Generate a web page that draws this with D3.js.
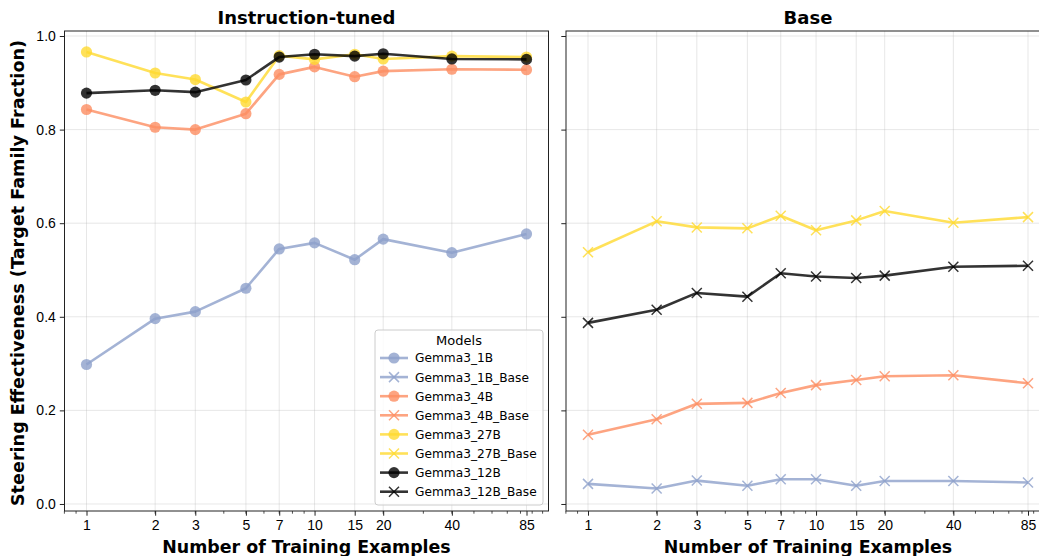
<!DOCTYPE html>
<html>
<head>
<meta charset="utf-8">
<script src="https://cdn.jsdelivr.net/npm/d3@7"></script>
<style>
  body { margin: 0; background: #fff; }
  svg { display: block; font-family: "DejaVu Sans", sans-serif; }
  .tick text { font-size: 14px; fill: #000; }
</style>
</head>
<body>
<svg id="chart" width="1039" height="556"></svg>
<script>
const shots = [1, 2, 3, 5, 7, 10, 15, 20, 40, 85];
const yTicks = [0, 0.2, 0.4, 0.6, 0.8, 1.0];
const minorTicks = [0.8, 0.9, 2, 3, 4, 5, 6, 7, 8, 9, 20, 30, 40, 50, 60, 70, 80, 90, 100];

// instruction-tuned
const gemma1B  = [0.298, 0.396, 0.411, 0.461, 0.545, 0.558, 0.522, 0.566, 0.537, 0.577];
const gemma4B  = [0.843, 0.805, 0.800, 0.834, 0.918, 0.934, 0.913, 0.925, 0.929, 0.928];
const gemma27B = [0.966, 0.921, 0.907, 0.859, 0.958, 0.950, 0.961, 0.951, 0.957, 0.955];
const gemma12B = [0.878, 0.884, 0.880, 0.906, 0.955, 0.961, 0.957, 0.962, 0.951, 0.950];
// base
const gemma1BBase  = [0.043, 0.033, 0.050, 0.039, 0.053, 0.053, 0.039, 0.049, 0.049, 0.046];
const gemma4BBase  = [0.148, 0.181, 0.214, 0.216, 0.237, 0.254, 0.265, 0.273, 0.275, 0.258];
const gemma27BBase = [0.538, 0.604, 0.591, 0.589, 0.616, 0.585, 0.606, 0.626, 0.601, 0.613];
const gemma12BBase = [0.387, 0.415, 0.451, 0.443, 0.493, 0.486, 0.483, 0.488, 0.507, 0.509];

const models = [
  { name: "Gemma3_1B", values: gemma1B, color: "#8da0cb", marker: "o", panel: 0 },
  { name: "Gemma3_1B_Base", values: gemma1BBase, color: "#8da0cb", marker: "x", panel: 1 },
  { name: "Gemma3_4B", values: gemma4B, color: "#fc8d62", marker: "o", panel: 0 },
  { name: "Gemma3_4B_Base", values: gemma4BBase, color: "#fc8d62", marker: "x", panel: 1 },
  { name: "Gemma3_27B", values: gemma27B, color: "#ffd92f", marker: "o", panel: 0 },
  { name: "Gemma3_27B_Base", values: gemma27BBase, color: "#ffd92f", marker: "x", panel: 1 },
  { name: "Gemma3_12B", values: gemma12B, color: "#000000", marker: "o", panel: 0 },
  { name: "Gemma3_12B_Base", values: gemma12BBase, color: "#000000", marker: "x", panel: 1 }
];
const panelTitles = ["Instruction-tuned", "Base"];

const svg = d3.select("#chart");
const plotTop = 31, plotBottom = 511, panelW = 484;
const panelLeft = [64.5, 566];
const titleX = [306.5, 808];
const ALPHA = 0.8;

const lmin = Math.log10(shots[0]), lmax = Math.log10(shots[shots.length - 1]);
const pad = (lmax - lmin) * 0.05;
const y = d3.scaleLinear().domain([-0.015, 1.0107]).range([plotBottom, plotTop]);

function drawMarker(g, type, cx, cy, color, size) {
  if (type === "o") {
    g.append("circle").attr("cx", cx).attr("cy", cy).attr("r", size)
      .attr("fill", color).attr("fill-opacity", ALPHA);
  } else {
    const s = size;
    g.append("path")
      .attr("d", `M${cx - s},${cy - s}L${cx + s},${cy + s}M${cx - s},${cy + s}L${cx + s},${cy - s}`)
      .attr("stroke", color).attr("stroke-opacity", ALPHA).attr("stroke-width", 1.5).attr("fill", "none");
  }
}

panelLeft.forEach((left, p) => {
  const x = d3.scaleLog()
    .domain([Math.pow(10, lmin - pad), Math.pow(10, lmax + pad)])
    .range([left, left + panelW]);
  const g = svg.append("g");

  // grid
  g.selectAll(".gx").data(shots).join("line")
    .attr("x1", d => x(d)).attr("x2", d => x(d)).attr("y1", plotTop).attr("y2", plotBottom)
    .attr("stroke", "#b0b0b0").attr("stroke-opacity", 0.3).attr("stroke-width", 1);
  g.selectAll(".gy").data(yTicks).join("line")
    .attr("x1", left).attr("x2", left + panelW).attr("y1", d => y(d)).attr("y2", d => y(d))
    .attr("stroke", "#b0b0b0").attr("stroke-opacity", 0.3).attr("stroke-width", 1);

  // series
  models.filter(m => m.panel === p).forEach(m => {
    const line = d3.line().x((d, i) => x(shots[i])).y(d => y(d));
    g.append("path").datum(m.values).attr("d", line)
      .attr("fill", "none").attr("stroke", m.color).attr("stroke-opacity", ALPHA)
      .attr("stroke-width", 2.6).attr("stroke-linejoin", "round");
    m.values.forEach((v, i) => drawMarker(g, m.marker, x(shots[i]), y(v), m.color, m.marker === "o" ? 5.6 : 5));
  });

  // frame
  g.append("rect").attr("x", left).attr("y", plotTop).attr("width", panelW).attr("height", plotBottom - plotTop)
    .attr("fill", "none").attr("stroke", "#222").attr("stroke-width", 1);

  // x axis
  const xAxis = g.append("g").attr("transform", `translate(0,${plotBottom})`)
    .call(d3.axisBottom(x).tickValues(shots).tickFormat(d3.format("d")).tickSize(4.7).tickPadding(4));
  xAxis.select(".domain").remove();
  xAxis.selectAll(".tick line").attr("stroke", "#222");
  g.selectAll(".minor").data(minorTicks).join("line")
    .attr("x1", d => x(d)).attr("x2", d => x(d)).attr("y1", plotBottom).attr("y2", plotBottom + 2.7)
    .attr("stroke", "#222").attr("stroke-width", 0.8);

  // y axis
  const yAxis = g.append("g").attr("transform", `translate(${left},0)`)
    .call(d3.axisLeft(y).tickValues(yTicks).tickFormat(p === 0 ? d3.format(".1f") : () => "")
      .tickSize(4.7).tickPadding(4));
  yAxis.select(".domain").remove();
  yAxis.selectAll(".tick line").attr("stroke", "#222");

  g.append("text").attr("x", titleX[p]).attr("y", 24)
    .attr("text-anchor", "middle").attr("font-size", 18).attr("font-weight", "bold")
    .text(panelTitles[p]);
  g.append("text").attr("x", titleX[p]).attr("y", 553)
    .attr("text-anchor", "middle").attr("font-size", 17.4).attr("font-weight", "bold")
    .text("Number of Training Examples");
});

// y label
svg.append("text").attr("transform", `translate(24,${(plotTop + plotBottom) / 2 + 2}) rotate(-90)`)
  .attr("text-anchor", "middle").attr("font-size", 17.6).attr("font-weight", "bold")
  .text("Steering Effectiveness (Target Family Fraction)");

// legend
const lg = svg.append("g").attr("transform", "translate(375,330)");
lg.append("rect").attr("width", 168).attr("height", 175).attr("rx", 3)
  .attr("fill", "#fff").attr("fill-opacity", 0.8).attr("stroke", "#ccc");
lg.append("text").attr("x", 84).attr("y", 15).attr("text-anchor", "middle").attr("font-size", 13).text("Models");
models.forEach((m, i) => {
  const yy = 28 + i * 19.1;
  lg.append("line").attr("x1", 5).attr("x2", 33).attr("y1", yy).attr("y2", yy)
    .attr("stroke", m.color).attr("stroke-opacity", ALPHA).attr("stroke-width", 2.6);
  drawMarker(lg, m.marker, 19, yy, m.color, m.marker === "o" ? 5.6 : 5);
  lg.append("text").attr("x", 40).attr("y", yy + 4.4).attr("font-size", 12.2).text(m.name);
});
</script>
</body>
</html>
